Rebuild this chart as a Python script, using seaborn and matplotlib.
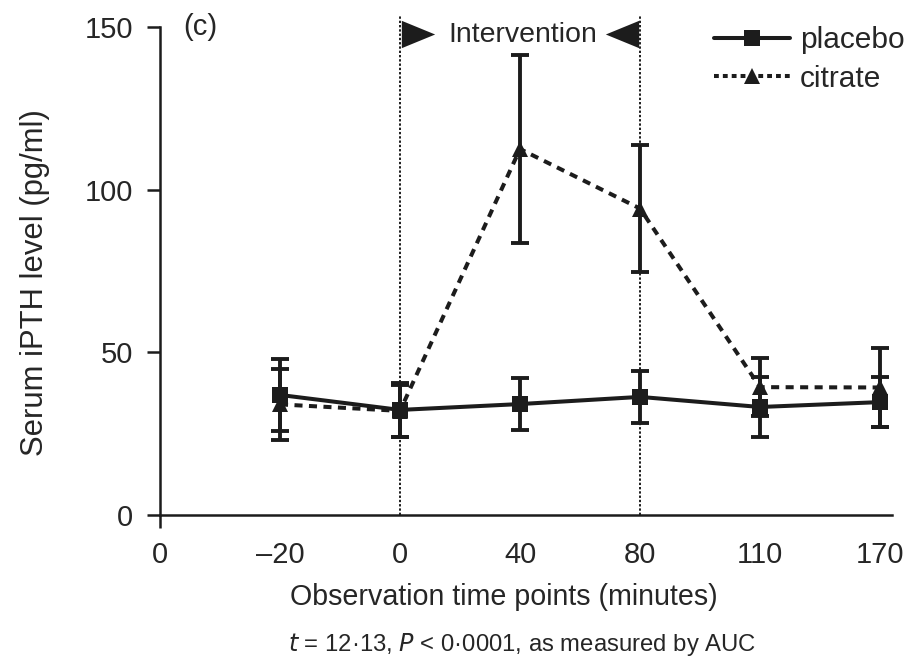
import numpy as np
import pandas as pd
import seaborn as sns
import matplotlib
matplotlib.use("Agg")
import matplotlib.pyplot as plt
from matplotlib.lines import Line2D

# ---- data ----
time_labels = ["–20", "0", "40", "80", "110", "170"]
placebo_mean = [36.9, 32.3, 34.1, 36.3, 33.2, 34.7]
placebo_err = [11.2, 8.2, 8.1, 8.0, 9.2, 7.7]
citrate_mean = [34.0, 32.0, 112.5, 94.2, 39.3, 39.2]
citrate_err = [11.0, 8.0, 29.0, 19.5, 9.0, 12.0]
intervention_start = "0"
intervention_end = "80"

sns.set_theme(style="white")
plt.rcParams["font.family"] = ["Liberation Sans", "DejaVu Sans"]
K = "#1c1c1c"
T = "#262626"

positions = np.arange(1, len(time_labels) + 1)
df = pd.concat([
    pd.DataFrame({"group": "citrate", "pos": positions, "value": citrate_mean}),
    pd.DataFrame({"group": "placebo", "pos": positions, "value": placebo_mean}),
])

fig = plt.figure(figsize=(9.22, 6.59), dpi=100)
ax = fig.add_axes([160 / 922, 1 - 515 / 659, 732 / 922, 488 / 659])

# intervention dotted lines
for lab in (intervention_start, intervention_end):
    xp = time_labels.index(lab) + 1
    ax.vlines(xp, 0, 153.6, colors=K, linestyles=(0, (1.2, 1.0)), lw=1.4,
              clip_on=False, zorder=1)

sns.lineplot(data=df, x="pos", y="value", hue="group", style="group",
             hue_order=["citrate", "placebo"], style_order=["citrate", "placebo"],
             palette={"citrate": K, "placebo": K},
             markers={"citrate": "^", "placebo": "s"},
             dashes={"citrate": (2.0, 1.6), "placebo": ""},
             markersize=12, markeredgewidth=0, linewidth=2.9,
             legend=False, ax=ax, zorder=3)

ax.errorbar(positions, citrate_mean, yerr=citrate_err, fmt="none", ecolor=K,
            elinewidth=2.8, capsize=6.5, capthick=2.8, zorder=2)
ax.errorbar(positions, placebo_mean, yerr=placebo_err, fmt="none", ecolor=K,
            elinewidth=2.8, capsize=6.5, capthick=2.8, zorder=2)

ax.set_xlim(0, 6.1)
ax.set_ylim(0, 150)
ax.set_xticks(np.arange(0, len(time_labels) + 1))
ax.set_xticklabels(["0"] + time_labels)
ax.xaxis.remove_overlapping_locs = False
ax.set_xticks([0], minor=True)
ax.set_yticks([0, 50, 100, 150])

for s in ("top", "right"):
    ax.spines[s].set_visible(False)
for s in ("left", "bottom"):
    ax.spines[s].set_linewidth(1.8)
    ax.spines[s].set_color(K)

ax.tick_params(axis="y", which="major", direction="out", length=9.4, width=1.8,
               color=K, pad=10, labelsize=21, labelcolor=T, left=True)
ax.tick_params(axis="x", which="major", length=0, pad=19, labelsize=21,
               labelcolor=T)
ax.tick_params(axis="x", which="minor", direction="out", length=9.4, width=1.8,
               color=K, bottom=True)
ax.set_xlabel("")
ax.set_ylabel("")

fig.text(35 / 922, 1 - 283 / 659, "Serum iPTH level (pg/ml)", rotation=90,
         ha="center", va="center", fontsize=22.3, color=T)
fig.text(503.5 / 922, 1 - 597 / 659, "Observation time points (minutes)",
         ha="center", va="center", fontsize=20.6, color=T)
fig.text(522 / 922, 1 - 645 / 659,
         r"$\it{t}$ = 12·13, $\it{P}$ < 0·0001, as measured by AUC",
         ha="center", va="center", fontsize=17.2, color=T)

ax.text(0.19, 150, "(c)", ha="left", va="center", fontsize=21, color=T)

# intervention header
x0 = time_labels.index(intervention_start) + 1
x1 = time_labels.index(intervention_end) + 1
right_tri = [(-1, -0.82), (1, 0), (-1, 0.82), (-1, -0.82)]
left_tri = [(1, -0.82), (-1, 0), (1, 0.82), (1, -0.82)]
ax.plot([x0 + 0.15], [147.8], marker=right_tri, ms=24, color=K, mew=0,
        clip_on=False)
ax.plot([x1 - 0.15], [147.8], marker=left_tri, ms=24, color=K, mew=0,
        clip_on=False)
ax.text((x0 + x1) / 2 + 0.02, 147.5, "Intervention", ha="center", va="center",
        fontsize=20.5, color=T)

handles = [
    Line2D([], [], color=K, lw=2.9, marker="s", ms=12, mew=0),
    Line2D([], [], color=K, lw=2.9, ls=(0, (1.2, 1.0)), marker="^", ms=12, mew=0),
]
leg = fig.legend(handles, ["placebo", "citrate"], loc="upper left",
                 bbox_to_anchor=(714 / 922, 1 - 26 / 659), frameon=False,
                 fontsize=21.5, handlelength=2.55, handletextpad=0.33,
                 labelspacing=0.36, borderpad=0, borderaxespad=0, numpoints=1)
for t in leg.get_texts():
    t.set_color(T)

fig.savefig("out.png", dpi=100)
